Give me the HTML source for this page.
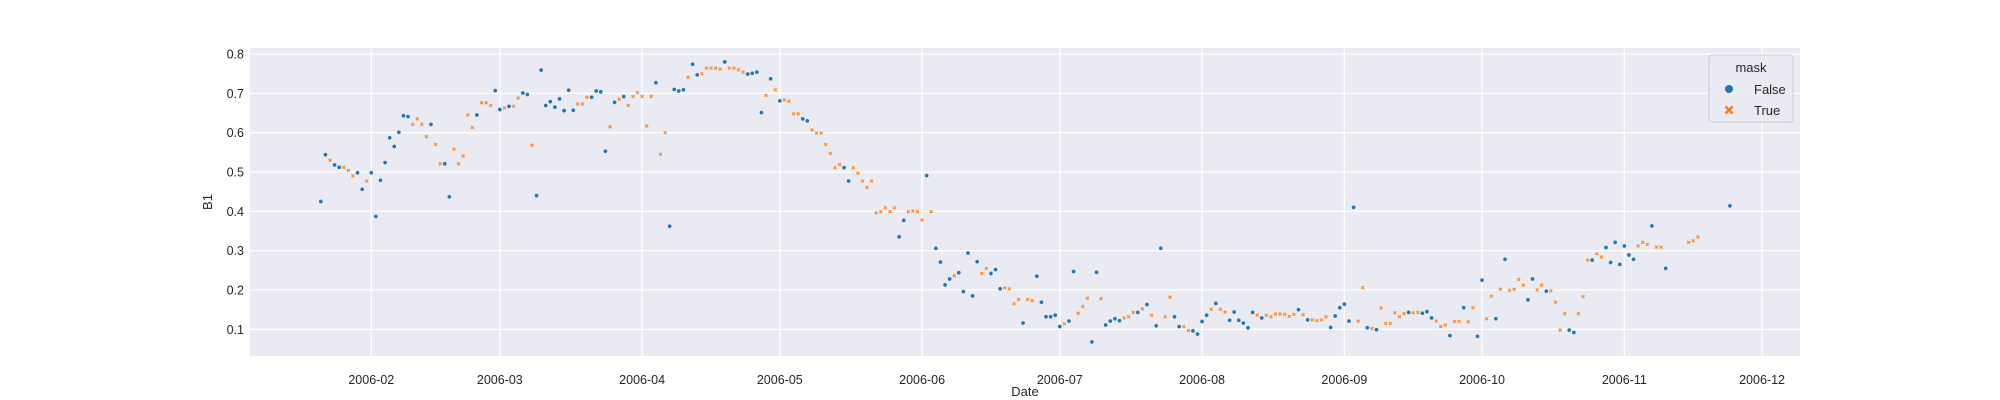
<!DOCTYPE html>
<html><head><meta charset="utf-8"><style>
html,body{margin:0;padding:0;background:#fff;}
svg{display:block;font-family:"Liberation Sans","DejaVu Sans",sans-serif;}
</style></head><body>
<svg id="chart" width="2000" height="400" viewBox="0 0 2000 400" xmlns="http://www.w3.org/2000/svg">
<rect x="250" y="48" width="1550" height="308" fill="#eaeaf2"/>
<g id="grid"></g>
<g id="xticks"></g>
<g id="yticks"></g>
<g id="points"></g>
<text x="1025" y="396" font-size="13" text-anchor="middle" fill="#262626">Date</text>
<text x="0" y="0" transform="translate(212,202) rotate(-90)" font-size="13" text-anchor="middle" fill="#262626">B1</text>
<g>
<rect x="1709" y="55" width="84" height="67" rx="3" fill="#eaeaf2" fill-opacity="0.8" stroke="#cccccc" stroke-width="1"/>
<text x="1751" y="72" font-size="13" text-anchor="middle" fill="#262626">mask</text>
<circle cx="1729" cy="89" r="4" fill="#1f77b4"/>
<text x="1754" y="94" font-size="13" fill="#262626">False</text>
<path d="M1725.5,106.5 L1732.5,113.5 M1732.5,106.5 L1725.5,113.5" stroke="#ff7f0e" stroke-width="2.6"/>
<text x="1754" y="115" font-size="13" fill="#262626">True</text>
</g>
</svg>
<script>
const startDate = '2006-01-21';
const values = [
0.425,0.544,0.530,0.518,0.512,0.512,0.504,0.490,0.498,0.456,
0.477,0.498,0.387,0.479,0.524,0.587,0.565,0.601,0.643,0.641,
0.621,0.635,0.621,0.590,0.621,0.570,0.521,0.521,0.437,0.558,
0.521,0.541,0.645,0.613,0.645,0.676,0.676,0.669,0.707,0.659,
0.663,0.667,0.667,0.688,0.701,0.697,0.568,0.440,0.759,0.669,
0.679,0.665,0.686,0.656,0.708,0.657,0.673,0.673,0.690,0.690,
0.706,0.704,0.553,0.615,0.677,0.685,0.692,0.669,0.692,0.702,
0.692,0.617,0.692,0.727,0.545,0.600,0.362,0.710,0.706,0.709,
0.741,0.774,0.747,0.750,0.764,0.764,0.764,0.762,0.780,0.764,
0.764,0.760,0.754,0.749,0.751,0.754,0.651,0.695,0.737,0.709,
0.681,0.683,0.680,0.648,0.648,0.635,0.630,0.607,0.599,0.599,
0.570,0.547,0.511,0.519,0.511,0.477,0.511,0.497,0.477,0.461,
0.477,0.396,0.399,0.409,0.399,0.409,0.335,0.377,0.399,0.401,
0.399,0.378,0.491,0.399,0.306,0.271,0.213,0.228,0.236,0.244,
0.196,0.294,0.185,0.272,0.242,0.255,0.242,0.252,0.203,0.205,
0.203,0.165,0.176,0.116,0.176,0.173,0.235,0.169,0.132,0.132,
0.136,0.107,0.114,0.121,0.247,0.141,0.158,0.179,0.068,0.245,
0.178,0.111,0.121,0.127,0.122,0.129,0.132,0.143,0.143,0.152,
0.163,0.136,0.109,0.306,0.132,0.182,0.132,0.107,0.107,0.097,
0.096,0.088,0.120,0.136,0.151,0.166,0.151,0.144,0.123,0.144,
0.123,0.116,0.104,0.143,0.136,0.129,0.136,0.132,0.139,0.139,
0.138,0.133,0.138,0.150,0.137,0.124,0.124,0.122,0.124,0.132,
0.105,0.134,0.155,0.164,0.121,0.410,0.121,0.206,0.104,0.102,
0.099,0.154,0.115,0.115,0.142,0.132,0.140,0.143,0.142,0.143,
0.141,0.145,0.129,0.121,0.107,0.111,0.084,0.120,0.120,0.155,
0.119,0.155,0.082,0.225,0.127,0.184,0.127,0.202,0.278,0.199,
0.202,0.227,0.212,0.175,0.228,0.200,0.212,0.197,0.198,0.169,
0.098,0.140,0.098,0.092,0.140,0.183,0.276,0.276,0.292,0.284,
0.308,0.270,0.321,0.265,0.312,0.289,0.278,0.312,0.321,0.316,
0.363,0.309,0.309,0.255,null,null,null,null,0.321,0.325,
0.335,null,null,null,null,null,null,0.414
];
const maskTrue = [
0,0,1,0,0,1,1,1,0,0, 1,0,0,0,0,0,0,0,0,0, 1,1,1,1,0,1,1,0,0,1, 1,1,1,1,0,1,1,1,0,0,
1,0,1,1,0,0,1,0,0,0, 0,0,0,0,0,0,1,1,1,0, 0,0,0,1,0,1,0,1,1,1, 1,1,1,0,1,1,0,0,0,0,
1,0,0,1,1,1,1,1,0,1, 1,1,1,0,0,0,0,1,0,1, 0,1,1,1,1,0,0,1,1,1, 1,1,1,1,0,0,1,1,1,1,
1,1,1,1,1,1,0,0,1,1, 1,1,0,1,0,0,0,0,1,0, 0,0,0,0,1,1,0,0,0,1, 1,1,1,0,1,1,0,0,0,0,
0,0,1,0,0,1,1,1,0,0, 1,0,0,0,0,1,1,1,0,1, 0,1,0,0,1,1,0,0,1,1, 0,0,0,0,1,0,1,1,0,0,
0,0,0,0,1,0,1,1,1,1, 1,1,1,0,1,0,1,1,1,1, 0,0,0,0,0,0,1,1,0,1, 0,1,1,1,1,1,1,0,1,1,
0,0,0,1,1,1,0,1,1,0, 1,1,0,0,1,1,0,1,0,1, 1,1,1,0,0,1,1,0,1,1, 1,1,0,0,1,1,1,0,1,1,
0,0,0,0,0,0,0,1,1,1, 0,1,1,0,0,0,0,0,1,1, 1,0,0,0,0,0,0,0
];
const xTickDates = ['2006-02-01','2006-03-01','2006-04-01','2006-05-01','2006-06-01','2006-07-01','2006-08-01','2006-09-01','2006-10-01','2006-11-01','2006-12-01'];
const xTickLabels = ['2006-02','2006-03','2006-04','2006-05','2006-06','2006-07','2006-08','2006-09','2006-10','2006-11','2006-12'];
const yTicks = [0.1,0.2,0.3,0.4,0.5,0.6,0.7,0.8];
const yTickLabels = ['0.1','0.2','0.3','0.4','0.5','0.6','0.7','0.8'];

const DAY = 86400000;
const feb1 = Date.UTC(2006,1,1);
const xMin = feb1 - 26.43*DAY, xMax = feb1 + 311.27*DAY;
const yMin = 0.0322, yMax = 0.8153;
const L=250,R=1800,T=48,B=356;
function xs(t){return L + (t-xMin)/(xMax-xMin)*(R-L);}
function ys(v){return B - (v-yMin)/(yMax-yMin)*(B-T);}
function parseD(s){const p=s.split('-');return Date.UTC(+p[0],+p[1]-1,+p[2]);}
const NS='http://www.w3.org/2000/svg';
function mk(tag,attrs,parent){const e=document.createElementNS(NS,tag);for(const k in attrs)e.setAttribute(k,attrs[k]);parent.appendChild(e);return e;}
const grid=document.getElementById('grid'), gx=document.getElementById('xticks'), gy=document.getElementById('yticks'), gp=document.getElementById('points');
xTickDates.forEach((d,i)=>{
  const x=xs(parseD(d));
  const ln=mk('line',{x1:x,x2:x,y1:T,y2:B,stroke:'#ffffff','stroke-width':1.3},grid);
  
  
  const t=mk('text',{x:x,y:384,'font-size':12.5,'text-anchor':'middle',fill:'#262626'},gx);
  t.textContent=xTickLabels[i];
  
  
});
yTicks.forEach((v,i)=>{
  const y=ys(v);
  const ln=mk('line',{x1:L,x2:R,y1:y,y2:y,stroke:'#ffffff','stroke-width':1.3},grid);
  
  
  const t=mk('text',{x:244,y:y+4.5,'font-size':12.5,'text-anchor':'end',fill:'#262626'},gy);
  t.textContent=yTickLabels[i];
  
  
});
const t0=parseD(startDate);
values.forEach((v,i)=>{
  if(v===null) return;
  const x=xs(t0+i*DAY), y=ys(v);
  let el;
  if(maskTrue[i]){
    el=mk('path',{d:`M${x-1.4},${y-1.4} L${x+1.4},${y+1.4} M${x+1.4},${y-1.4} L${x-1.4},${y+1.4}`,stroke:'#ff8f2e','stroke-width':1.3},gp);
    
  } else {
    el=mk('circle',{cx:x,cy:y,r:2.1,fill:'#1f77b4',stroke:'#ffffff','stroke-width':0.4},gp);
    
  }
  
});
</script>
</body></html>
